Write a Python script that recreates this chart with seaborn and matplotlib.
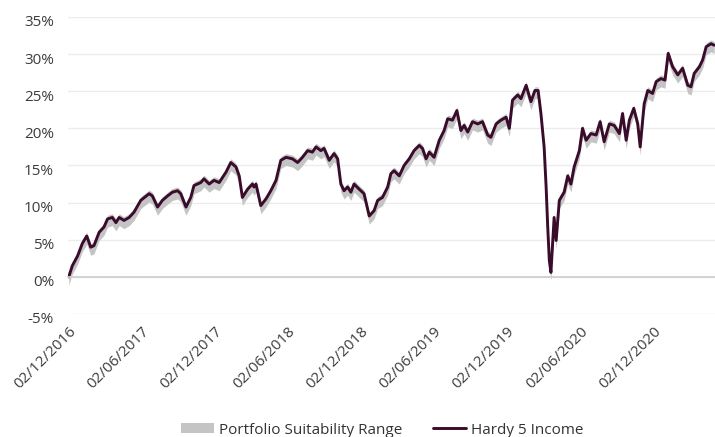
import pandas as pd
import seaborn as sns
import matplotlib.pyplot as plt
from matplotlib.ticker import FuncFormatter
from matplotlib.transforms import ScaledTranslation

# Hardy 5 Income cumulative return (%)
dates = [
    "2016-12-02", "2016-12-11", "2016-12-24", "2017-01-05", "2017-01-16", "2017-01-26",
    "2017-02-03", "2017-02-16", "2017-02-28", "2017-03-09", "2017-03-21", "2017-03-30",
    "2017-04-07", "2017-04-19", "2017-05-02", "2017-05-14", "2017-05-31", "2017-06-21",
    "2017-06-29", "2017-07-12", "2017-07-24", "2017-08-06", "2017-08-18", "2017-08-31",
    "2017-09-08", "2017-09-21", "2017-10-03", "2017-10-11", "2017-10-28", "2017-11-05",
    "2017-11-18", "2017-11-30", "2017-12-13", "2017-12-30", "2018-01-11", "2018-01-24",
    "2018-02-01", "2018-02-09", "2018-02-22", "2018-03-06", "2018-03-10", "2018-03-15",
    "2018-03-27", "2018-04-09", "2018-04-21", "2018-05-04", "2018-05-16", "2018-05-29",
    "2018-06-14", "2018-06-27", "2018-07-09", "2018-07-22", "2018-08-03", "2018-08-12",
    "2018-08-24", "2018-09-01", "2018-09-14", "2018-09-26", "2018-10-05", "2018-10-13",
    "2018-10-21", "2018-10-30", "2018-11-07", "2018-11-15", "2018-11-28", "2018-12-10",
    "2018-12-23", "2019-01-04", "2019-01-13", "2019-01-25", "2019-02-07", "2019-02-15",
    "2019-02-23", "2019-03-08", "2019-03-20", "2019-04-02", "2019-04-14", "2019-04-27",
    "2019-05-05", "2019-05-14", "2019-05-22", "2019-06-03", "2019-06-16", "2019-06-28",
    "2019-07-07", "2019-07-19", "2019-07-30", "2019-08-09", "2019-08-17", "2019-08-26",
    "2019-09-07", "2019-09-20", "2019-10-02", "2019-10-15", "2019-10-23", "2019-11-05",
    "2019-11-17", "2019-11-30", "2019-12-08", "2019-12-16", "2019-12-29", "2020-01-06",
    "2020-01-19", "2020-01-31", "2020-02-10", "2020-02-18", "2020-02-25", "2020-03-04",
    "2020-03-09", "2020-03-13", "2020-03-17", "2020-03-21", "2020-03-29", "2020-04-03",
    "2020-04-11", "2020-04-23", "2020-05-02", "2020-05-10", "2020-05-18", "2020-05-31",
    "2020-06-08", "2020-06-17", "2020-06-29", "2020-07-12", "2020-07-22", "2020-08-01",
    "2020-08-14", "2020-08-26", "2020-09-08", "2020-09-16", "2020-09-25", "2020-10-03",
    "2020-10-14", "2020-10-24", "2020-10-30", "2020-11-09", "2020-11-18", "2020-11-30",
    "2020-12-09", "2020-12-21", "2020-12-31", "2021-01-08", "2021-01-19", "2021-02-01",
    "2021-02-13", "2021-02-26", "2021-03-06", "2021-03-14", "2021-03-27", "2021-04-04",
    "2021-04-13", "2021-04-25", "2021-05-03",
]
returns = [
    0.0, 1.5, 2.8, 4.5, 5.5, 4.0,
    4.2, 6.0, 6.7, 7.8, 8.0, 7.3,
    8.0, 7.6, 8.0, 8.7, 10.3, 11.2,
    10.9, 9.4, 10.3, 10.9, 11.4, 11.6,
    11.2, 9.4, 10.7, 12.3, 12.7, 13.2,
    12.5, 13.0, 12.7, 14.1, 15.4, 14.8,
    13.6, 10.7, 11.8, 12.5, 12.1, 12.5,
    9.6, 10.5, 11.6, 13.0, 15.7, 16.1,
    15.9, 15.4, 16.1, 17.0, 16.8, 17.5,
    17.0, 17.3, 15.7, 16.6, 15.9, 12.5,
    11.6, 12.1, 11.4, 12.5, 11.8, 11.2,
    8.2, 8.9, 10.3, 10.7, 12.1, 13.9,
    14.3, 13.6, 15.0, 15.9, 17.0, 17.7,
    17.3, 15.9, 16.8, 16.1, 18.4, 19.7,
    21.3, 21.1, 22.4, 19.7, 20.4, 19.5,
    20.9, 20.6, 20.9, 19.1, 18.8, 20.6,
    21.1, 21.5, 20.0, 23.8, 24.5, 24.0,
    25.8, 23.6, 25.1, 25.1, 22.0, 17.5,
    12.1, 6.7, 2.2, 0.6, 8.0, 4.9,
    10.3, 11.4, 13.6, 12.5, 14.8, 17.0,
    20.0, 18.4, 19.3, 19.1, 20.9, 18.2,
    20.6, 20.4, 19.3, 22.0, 18.4, 21.1,
    22.7, 20.6, 17.5, 23.3, 25.1, 24.7,
    26.3, 26.7, 26.5, 30.1, 28.3, 27.2,
    28.1, 25.8, 25.6, 27.4, 28.3, 29.2,
    31.0, 31.4, 31.2,
]
# suitability range spread around the fund line (percentage points)
range_below = 1.1
range_above = 0.5

tick_dates = ["2016-12-02", "2017-06-02", "2017-12-02", "2018-06-02", "2018-12-02",
              "2019-06-02", "2019-12-02", "2020-06-02", "2020-12-02"]
y_ticks = [-5, 0, 5, 10, 15, 20, 25, 30, 35]

df = pd.DataFrame({"date": pd.to_datetime(dates), "ret": returns})

sns.set_theme(style="white")
plt.rcParams["font.family"] = ["Open Sans", "DejaVu Sans"]

fig = plt.figure(figsize=(7.15, 4.37), dpi=100)
ax = fig.add_axes([0.095, 0.2815, 0.905, 0.6796])

ax.fill_between(df["date"], df["ret"] - range_below, df["ret"] + range_above,
                color="#c4c4c4", lw=0, label="Portfolio Suitability Range")
sns.lineplot(data=df, x="date", y="ret", ax=ax, color="#3a0c2b", lw=2.1,
             label="Hardy 5 Income")

ax.set_ylim(-5, 35)
ax.set_xlim(pd.Timestamp("2016-11-30"), pd.Timestamp("2021-05-05"))
ax.set_yticks(y_ticks)
ax.yaxis.set_major_formatter(FuncFormatter(lambda v, p: f"{v:.0f}%"))
ax.grid(axis="y", color="#ececec", lw=1)
ax.set_axisbelow(True)
ax.set_xlabel("")
ax.set_ylabel("")

for s in ["top", "right", "left"]:
    ax.spines[s].set_visible(False)
ax.spines["bottom"].set_position(("data", 0))
ax.spines["bottom"].set_color("#cfcfcf")

ax.set_xticks(pd.to_datetime(tick_dates))
ax.set_xticklabels([pd.Timestamp(d).strftime("%d/%m/%Y") for d in tick_dates])
ax.tick_params(axis="x", length=6, width=1, color="#cfcfcf", direction="out",
               pad=28, labelsize=11, labelcolor="#3c3c3c")
ax.tick_params(axis="y", length=0, pad=10, labelsize=11, labelcolor="#3c3c3c")
for lab in ax.get_xticklabels():
    lab.set_rotation(45)
    lab.set_ha("right")
    lab.set_va("top")
    lab.set_rotation_mode("anchor")
# y labels sit a little below their gridlines in the original
shift = ScaledTranslation(0, -4 / 100, fig.dpi_scale_trans)
for lab in ax.get_yticklabels():
    lab.set_transform(lab.get_transform() + shift)

ax.legend_.remove()
handles, labels = ax.get_legend_handles_labels()
fig.legend(handles, labels, loc="center", bbox_to_anchor=(382 / 715, 1 - 430 / 437),
           ncol=2, frameon=False, fontsize=11, handlelength=2.2, handleheight=0.6,
           columnspacing=2.0, handletextpad=0.3, labelcolor="#333333")

fig.savefig("out.png", dpi=100)
